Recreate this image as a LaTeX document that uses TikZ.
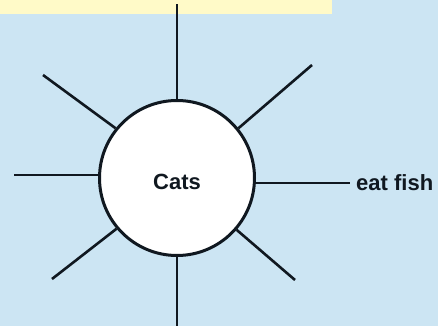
\documentclass[tikz,border=0pt]{standalone}
\usepackage{fontspec}
\setmainfont{Liberation Sans}
\usepackage{tikz}
\usetikzlibrary{positioning}
\definecolor{cSky}{HTML}{CCE5F3}
\definecolor{cCream}{HTML}{FFFAC8}
\definecolor{cInk}{HTML}{101820}

\begin{document}
\begin{tikzpicture}[
  x=1pt, y=-1pt,
  font=\fontsize{22}{25}\selectfont\bfseries,
  hub/.style={circle, draw=cInk, fill=white, line width=3pt, minimum size=155pt, inner sep=0pt},
  spoke/.style={draw=cInk, line width=2.6pt},
  lbl/.style={text=cInk, inner sep=0pt, anchor=west},
]
\useasboundingbox (0,0) rectangle (438,326);
\fill[cSky] (0,0) rectangle (438,326);
\fill[cCream] (0,0) rectangle (332,14);

\node[hub] (cat) at (177,178) {};
\node[text=cInk] (cats) at (177,182) {Cats};

\coordinate (top) at (177,4);
\coordinate (bot) at (177,326);
\coordinate (lft) at (14,175);
\coordinate (rgt) at (350,183);
\coordinate (ul) at (43,75);
\coordinate (ur) at (312,65);
\coordinate (ll) at (52,279);
\coordinate (lr) at (295,280);
\node[lbl] (fish) at (356,183) {eat fish};

\draw[spoke] (cat.north) -- (top);
\draw[spoke] (cat.south) -- (bot);
\draw[spoke] (lft -| cat.west) -- (lft);
\draw[spoke] (rgt -| cat.east) -- (rgt);
\draw[spoke] (cat.141) -- (ul);
\draw[spoke] (cat.39) -- (ur);
\draw[spoke] (cat.220) -- (ll);
\draw[spoke] (cat.-41) -- (lr);
\end{tikzpicture}
\end{document}
